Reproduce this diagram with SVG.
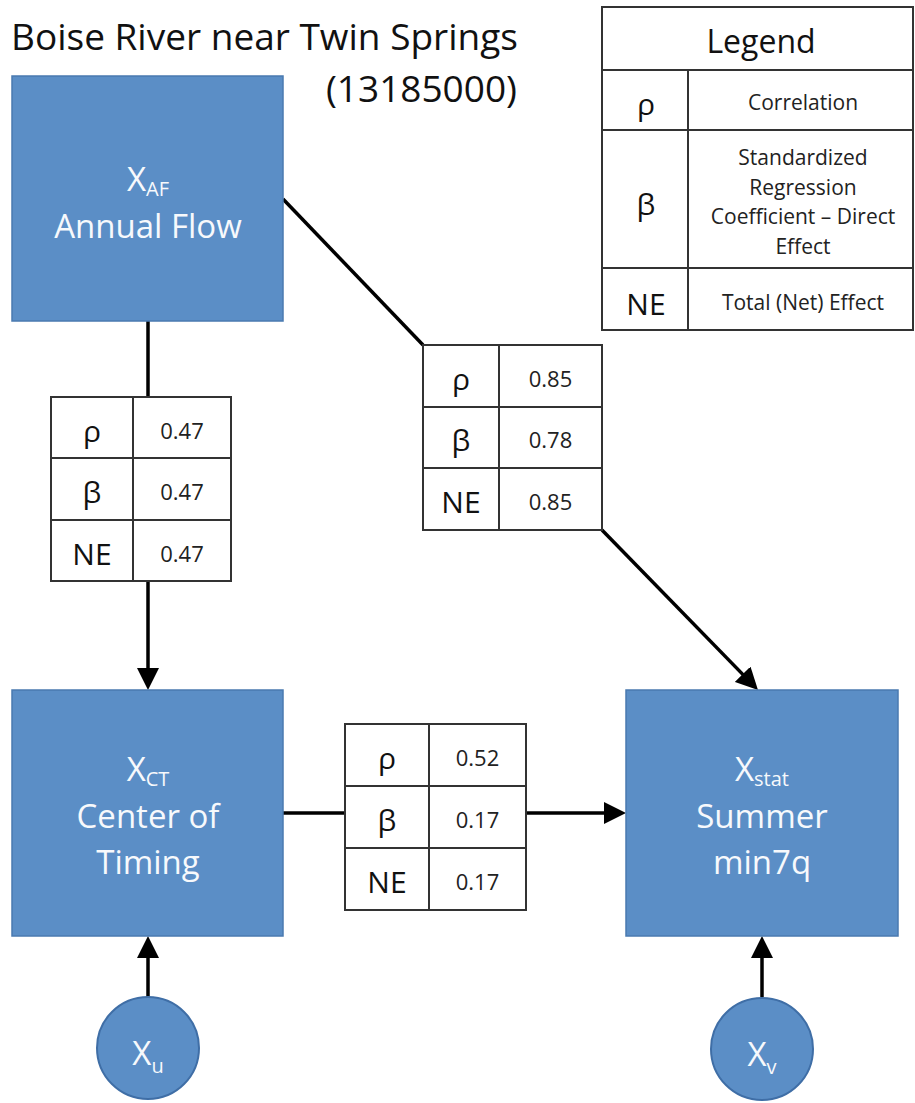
<svg xmlns="http://www.w3.org/2000/svg" width="915" height="1103" viewBox="0 0 915 1103">
<defs>
<style>
text{font-family:"Open Sans","Liberation Sans",sans-serif;}
.box{fill:#5b8ec6;stroke:#4a7ab0;stroke-width:1.5;}
.circ{fill:#5b8ec6;stroke:#3f6ea6;stroke-width:2;}
.nt{fill:#f7f9fc;font-size:33px;text-anchor:middle;}
.sub{font-size:20px;}
.title{fill:#111;font-size:37px;}
.tb{fill:#fff;stroke:#333;stroke-width:2;}
.tl{stroke:#333;stroke-width:2;}
.sym{fill:#111;font-size:30px;text-anchor:middle;}
.val{fill:#222;font-size:22px;text-anchor:middle;}
.lg{fill:#222;font-size:21px;text-anchor:middle;}
.con{stroke:#000;stroke-width:3.5;fill:none;}
</style>
<marker id="arr" viewBox="0 0 22 22" refX="10" refY="11" markerWidth="22" markerHeight="22" markerUnits="userSpaceOnUse" orient="auto">
<path d="M0,0 L22,11 L0,22 z" fill="#000"/>
</marker>
</defs>
<rect width="915" height="1103" fill="#fff"/>

<g id="title">
<text class="title" x="11" y="50">Boise River near Twin Springs</text>
<text class="title" x="517" y="102" text-anchor="end">(13185000)</text>
</g>

<g id="connectors">
<line class="con" x1="148" y1="321" x2="148" y2="397"/>
<line class="con" x1="148" y1="581" x2="148" y2="678" marker-end="url(#arr)"/>
<line class="con" x1="283" y1="199" x2="423" y2="345"/>
<line class="con" x1="602" y1="530" x2="749.6" y2="681.4" marker-end="url(#arr)"/>
<line class="con" x1="283" y1="813" x2="345" y2="813"/>
<line class="con" x1="526" y1="813" x2="614" y2="813" marker-end="url(#arr)"/>
<line class="con" x1="148" y1="997" x2="148" y2="948" marker-end="url(#arr)"/>
<line class="con" x1="762" y1="997" x2="762" y2="948" marker-end="url(#arr)"/>
</g>

<g id="node-annual-flow">
<rect class="box" x="12" y="76" width="271" height="245"/>
<text class="nt" x="148" y="191">X<tspan class="sub" dy="5">AF</tspan></text>
<text class="nt" x="148" y="238">Annual Flow</text>
</g>

<g id="node-center-timing">
<rect class="box" x="12" y="690" width="271" height="246"/>
<text class="nt" x="148" y="781">X<tspan class="sub" dy="5">CT</tspan></text>
<text class="nt" x="148" y="828">Center of</text>
<text class="nt" x="148" y="874">Timing</text>
</g>

<g id="node-summer">
<rect class="box" x="626" y="690" width="272" height="246"/>
<text class="nt" x="762" y="781">X<tspan class="sub" dy="5">stat</tspan></text>
<text class="nt" x="762" y="828">Summer</text>
<text class="nt" x="762" y="874">min7q</text>
</g>

<g id="node-xu">
<circle class="circ" cx="148" cy="1048" r="51"/>
<text class="nt" x="148" y="1065">X<tspan class="sub" dy="8">u</tspan></text>
</g>

<g id="node-xv">
<circle class="circ" cx="762" cy="1049" r="51"/>
<text class="nt" x="762" y="1066">X<tspan class="sub" dy="8">v</tspan></text>
</g>

<g id="table-af-ct">
<rect class="tb" x="51" y="397" width="180" height="184"/>
<line class="tl" x1="133" y1="397" x2="133" y2="581"/>
<line class="tl" x1="51" y1="458" x2="231" y2="458"/>
<line class="tl" x1="51" y1="520" x2="231" y2="520"/>
<text class="sym" x="92" y="442">ρ</text>
<text class="sym" x="92" y="503">β</text>
<text class="sym" x="92" y="565">NE</text>
<text class="val" x="182" y="439">0.47</text>
<text class="val" x="182" y="500">0.47</text>
<text class="val" x="182" y="562">0.47</text>
</g>

<g id="table-af-stat">
<rect class="tb" x="423" y="345" width="179" height="185"/>
<line class="tl" x1="499" y1="345" x2="499" y2="530"/>
<line class="tl" x1="423" y1="407" x2="602" y2="407"/>
<line class="tl" x1="423" y1="468" x2="602" y2="468"/>
<text class="sym" x="461" y="390">ρ</text>
<text class="sym" x="461" y="451">β</text>
<text class="sym" x="461" y="513">NE</text>
<text class="val" x="550.5" y="387">0.85</text>
<text class="val" x="550.5" y="448">0.78</text>
<text class="val" x="550.5" y="510">0.85</text>
</g>

<g id="table-ct-stat">
<rect class="tb" x="345" y="724" width="181" height="186"/>
<line class="tl" x1="429" y1="724" x2="429" y2="910"/>
<line class="tl" x1="345" y1="786" x2="526" y2="786"/>
<line class="tl" x1="345" y1="848" x2="526" y2="848"/>
<text class="sym" x="387" y="769">ρ</text>
<text class="sym" x="387" y="831">β</text>
<text class="sym" x="387" y="893">NE</text>
<text class="val" x="477.5" y="766">0.52</text>
<text class="val" x="477.5" y="828">0.17</text>
<text class="val" x="477.5" y="890">0.17</text>
</g>

<g id="legend">
<rect class="tb" x="602" y="7" width="311" height="323"/>
<line class="tl" x1="602" y1="70" x2="913" y2="70"/>
<line class="tl" x1="602" y1="130" x2="913" y2="130"/>
<line class="tl" x1="602" y1="268" x2="913" y2="268"/>
<line class="tl" x1="688" y1="70" x2="688" y2="330"/>
<text class="sym" x="761" y="53" style="font-size:32px">Legend</text>
<text class="sym" x="646" y="115">ρ</text>
<text class="lg" x="803" y="110">Correlation</text>
<text class="sym" x="646" y="215">β</text>
<text class="lg" x="803" y="165">Standardized</text>
<text class="lg" x="803" y="195">Regression</text>
<text class="lg" x="803" y="224">Coefficient – Direct</text>
<text class="lg" x="803" y="254">Effect</text>
<text class="sym" x="646" y="315">NE</text>
<text class="lg" x="803" y="310">Total (Net) Effect</text>
</g>
</svg>
